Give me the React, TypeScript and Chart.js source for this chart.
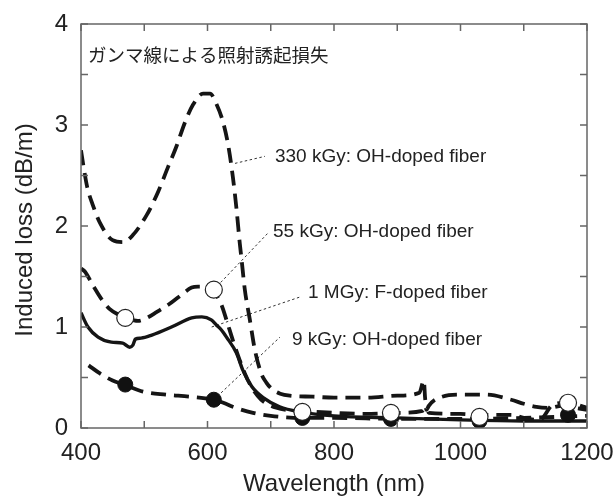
import { useEffect, useRef } from 'react';
import { Chart, registerables } from 'chart.js';

Chart.register(...registerables);

// ---- data (wavelength nm, induced loss dB/m) ----
const wl330 = [400, 405, 410, 418, 430, 450, 467, 482, 504, 522, 538, 551, 564, 577, 593, 604, 614, 625, 633, 640, 646, 651, 654, 659, 667, 675, 685, 693, 703, 715, 730, 767, 800, 850, 900, 935, 942, 944, 946, 950, 960, 1000, 1040, 1080, 1100, 1120, 1140, 1160, 1180, 1200];
const loss330 = [2.75, 2.55, 2.38, 2.22, 2.03, 1.86, 1.84, 1.91, 2.11, 2.34, 2.59, 2.79, 3.02, 3.2, 3.31, 3.31, 3.21, 3.02, 2.79, 2.49, 2.16, 1.83, 1.66, 1.37, 1.07, 0.77, 0.54, 0.45, 0.38, 0.34, 0.32, 0.31, 0.3, 0.3, 0.32, 0.35, 0.47, 0.3, 0.18, 0.22, 0.28, 0.33, 0.33, 0.28, 0.24, 0.21, 0.2, 0.22, 0.2, 0.18];

const wl55 = [400, 406, 420, 433, 445, 460, 475, 490, 504, 520, 538, 555, 575, 585, 600, 612, 622, 630, 640, 651, 659, 672, 685, 709, 750, 800, 850, 900, 940, 945, 950, 1000, 1030, 1080, 1100, 1125, 1146, 1170, 1200];
const loss55 = [1.58, 1.55, 1.4, 1.27, 1.18, 1.12, 1.08, 1.06, 1.09, 1.15, 1.22, 1.3, 1.39, 1.4, 1.39, 1.33, 1.22, 1.07, 0.87, 0.67, 0.54, 0.38, 0.28, 0.2, 0.17, 0.15, 0.14, 0.15, 0.17, 0.2, 0.15, 0.14, 0.13, 0.13, 0.1, 0.08, 0.23, 0.25, 0.2];

const wl9 = [412, 430, 450, 468, 498, 535, 572, 609, 625, 640, 672, 700, 750, 800, 900, 1000, 1100, 1200];
const loss9 = [0.62, 0.54, 0.47, 0.43, 0.36, 0.33, 0.31, 0.28, 0.25, 0.21, 0.15, 0.12, 0.1, 0.1, 0.09, 0.09, 0.1, 0.12];

const wlF = [400, 411, 427, 448, 466, 477, 482, 486, 495, 512, 543, 575, 591, 606, 614, 622, 630, 646, 656, 670, 688, 714, 746, 800, 900, 1000, 1100, 1200];
const lossF = [1.14, 1.0, 0.9, 0.85, 0.84, 0.8, 0.82, 0.88, 0.89, 0.92, 1.0, 1.09, 1.1, 1.07, 1.02, 0.97, 0.9, 0.74, 0.57, 0.41, 0.3, 0.21, 0.16, 0.12, 0.1, 0.08, 0.07, 0.07];

const openWl = [470, 610, 750, 890, 1030, 1170];
const openLoss = [1.09, 1.37, 0.16, 0.15, 0.11, 0.25];
const filledWl = [470, 610, 750, 890, 1030, 1170];
const filledLoss = [0.43, 0.28, 0.1, 0.09, 0.07, 0.13];

const xTickValues = [400, 600, 800, 1000, 1200];
const xTickLabels = ['400', '600', '800', '1000', '1200'];
const yTickValues = [0, 1, 2, 3, 4];
const yTickLabels = ['0', '1', '2', '3', '4'];
const xMinorTicks = [400, 500, 600, 700, 800, 900, 1000, 1100, 1200];
const yMinorTicks = [0, 0.5, 1, 1.5, 2, 2.5, 3, 3.5, 4];

const titleText = 'ガンマ線による照射誘起損失';
const xTitle = 'Wavelength (nm)';
const yTitle = 'Induced loss (dB/m)';

// annotation labels: text, anchor (wl, loss) of left-middle of text
const labelTexts = ['330 kGy: OH-doped fiber', '55 kGy: OH-doped fiber', '1 MGy: F-doped fiber', '9 kGy: OH-doped fiber'];
const labelWl = [706.7, 703.6, 758.9, 733.6];
const labelLoss = [2.683, 1.94, 1.337, 0.871];
// leader lines: from (wl0, loss0) to (wl1, loss1)
const leaderWl0 = [643.5, 610, 606.6, 610];
const leaderLoss0 = [2.62, 1.37, 1.0, 0.28];
const leaderWl1 = [690.9, 695.6, 746.2, 714.6];
const leaderLoss1 = [2.69, 1.93, 1.297, 0.9];

const pts = (xs: number[], ys: number[]) => xs.map((x, i) => ({ x, y: ys[i] }));

const FONT = '"Liberation Sans", Arial, sans-serif';

const decoPlugin = {
  id: 'deco',
  beforeDatasetsDraw(chart: any) {
    const { ctx, scales } = chart;
    const x = scales.x, y = scales.y;
    ctx.save();
    ctx.strokeStyle = '#333';
    ctx.lineWidth = 1;
    ctx.setLineDash([2.5, 2.5]);
    for (let i = 0; i < leaderWl0.length; i++) {
      ctx.beginPath();
      ctx.moveTo(x.getPixelForValue(leaderWl0[i]), y.getPixelForValue(leaderLoss0[i]));
      ctx.lineTo(x.getPixelForValue(leaderWl1[i]), y.getPixelForValue(leaderLoss1[i]));
      ctx.stroke();
    }
    ctx.restore();
  },
  afterDraw(chart: any) {
    const { ctx, scales, chartArea } = chart;
    const x = scales.x, y = scales.y;
    const { left, right, top, bottom } = chartArea;
    ctx.save();
    // frame
    ctx.strokeStyle = '#666';
    ctx.lineWidth = 1.5;
    ctx.setLineDash([]);
    ctx.strokeRect(left, top, right - left, bottom - top);
    const tl = 7;
    ctx.beginPath();
    xMinorTicks.forEach((v) => {
      const px = x.getPixelForValue(v);
      ctx.moveTo(px, bottom); ctx.lineTo(px, bottom - tl);
      ctx.moveTo(px, top); ctx.lineTo(px, top + tl);
    });
    yMinorTicks.forEach((v) => {
      const py = y.getPixelForValue(v);
      ctx.moveTo(left, py); ctx.lineTo(left + tl, py);
      ctx.moveTo(right, py); ctx.lineTo(right - tl, py);
    });
    ctx.stroke();

    // annotation labels
    ctx.fillStyle = '#222';
    ctx.textBaseline = 'middle';
    ctx.textAlign = 'left';
    ctx.font = `19px ${FONT}`;
    labelTexts.forEach((t, i) => {
      ctx.fillText(t, x.getPixelForValue(labelWl[i]), y.getPixelForValue(labelLoss[i]));
    });

    // title in plot
    ctx.font = '18.5px "Noto Sans CJK JP", sans-serif';
    ctx.fillText(titleText, left + 7, top + 31);

    // axis titles
    ctx.font = `24px ${FONT}`;
    ctx.textAlign = 'center';
    ctx.fillText(xTitle, (left + right) / 2, bottom + 56);
    ctx.translate(left - 56, (top + bottom) / 2 + 4);
    ctx.rotate(-Math.PI / 2);
    ctx.fillText(yTitle, 0, 0);
    ctx.restore();
  },
};

export default function App() {
  const ref = useRef<HTMLCanvasElement | null>(null);
  useEffect(() => {
    document.body.style.margin = '0';
    if (!ref.current) return;
    const lineBase = {
      type: 'line' as const,
      borderColor: '#151515',
      borderWidth: 3.8,
      pointRadius: 0,
      fill: false,
      cubicInterpolationMode: 'monotone' as const,
      borderDash: [15, 8],
    };
    const chart = new Chart(ref.current, {
      type: 'line',
      data: {
        datasets: [
          {
            type: 'scatter',
            label: 'open',
            data: pts(openWl, openLoss),
            pointRadius: 8.5,
            pointBackgroundColor: '#fff',
            pointBorderColor: '#222',
            pointBorderWidth: 1.2,
            showLine: false,
          } as any,
          {
            type: 'scatter',
            label: 'filled',
            data: pts(filledWl, filledLoss),
            pointRadius: 7.5,
            pointBackgroundColor: '#111',
            pointBorderColor: '#111',
            pointBorderWidth: 1,
            showLine: false,
          } as any,
          { ...lineBase, label: '330 kGy', data: pts(wl330, loss330) },
          { ...lineBase, label: '55 kGy', data: pts(wl55, loss55) },
          { ...lineBase, label: '9 kGy', data: pts(wl9, loss9) },
          { ...lineBase, label: '1 MGy', data: pts(wlF, lossF), borderDash: [], borderWidth: 3.4 },
        ],
      },
      options: {
        animation: false,
        responsive: false,
        maintainAspectRatio: false,
        layout: { padding: { left: 0, top: 24, right: 29, bottom: 0 } },
        plugins: { legend: { display: false }, tooltip: { enabled: false }, title: { display: false } },
        scales: {
          x: {
            type: 'linear',
            min: 400,
            max: 1200,
            afterBuildTicks: (s: any) => { s.ticks = xTickValues.map((v) => ({ value: v })); },
            afterFit: (s: any) => { s.height = 69; s.paddingLeft = 0; s.paddingRight = 0; },
            ticks: {
              font: { family: FONT, size: 24 }, color: '#222', padding: 11, maxRotation: 0,
              callback: (v: any) => xTickLabels[xTickValues.indexOf(Number(v))] ?? '',
            },
            grid: { display: false, drawTicks: false },
            border: { display: false },
          },
          y: {
            type: 'linear',
            min: 0,
            max: 4,
            afterBuildTicks: (s: any) => { s.ticks = yTickValues.map((v) => ({ value: v })); },
            afterFit: (s: any) => { s.width = 81; s.paddingTop = 0; s.paddingBottom = 0; },
            ticks: {
              font: { family: FONT, size: 24 }, color: '#222', padding: 13,
              callback: (v: any) => yTickLabels[yTickValues.indexOf(Number(v))] ?? '',
            },
            grid: { display: false, drawTicks: false },
            border: { display: false },
          },
        },
      } as any,
      plugins: [decoPlugin],
    });
    return () => chart.destroy();
  }, []);
  return <canvas ref={ref} width={616} height={497} style={{ display: 'block' }} />;
}
